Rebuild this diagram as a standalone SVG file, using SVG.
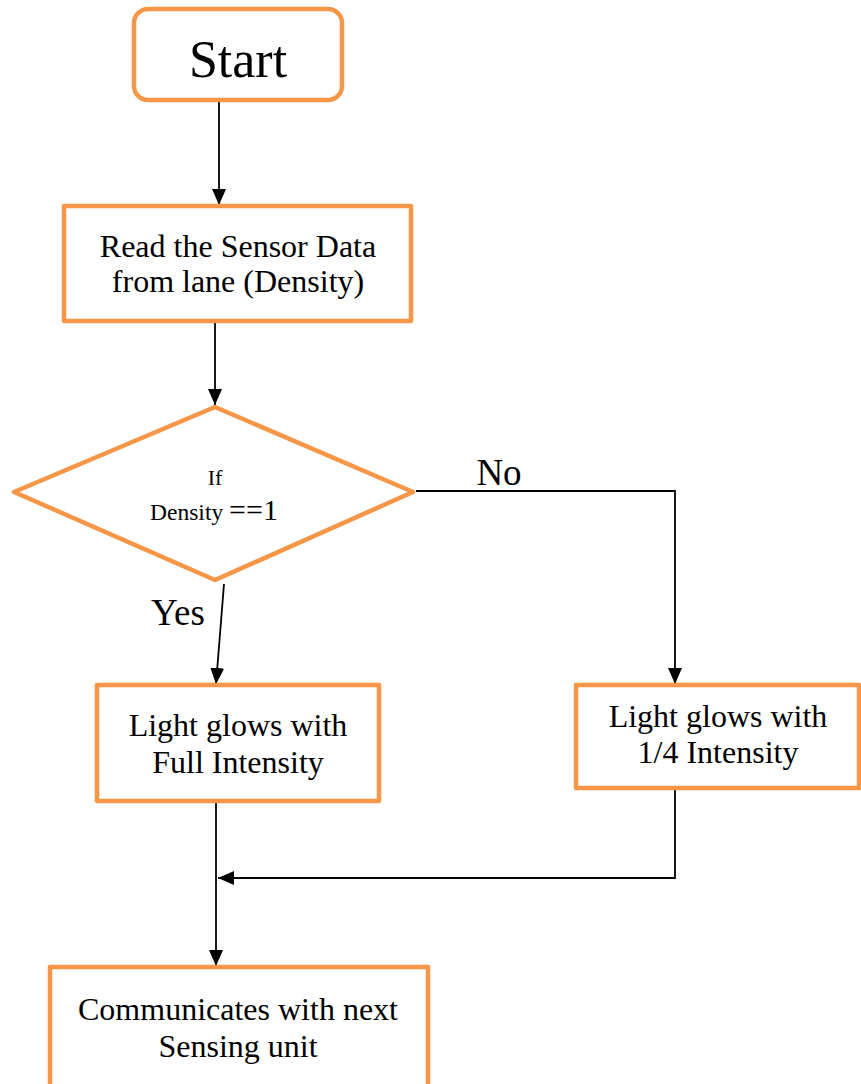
<svg xmlns="http://www.w3.org/2000/svg" width="861" height="1084" viewBox="0 0 861 1084">
<style>
.box{fill:#fff;stroke:#F79646;stroke-width:4.5;stroke-linejoin:round}
.t{font-family:"Liberation Serif","Times New Roman",serif;fill:#000;text-anchor:middle}
.c{fill:none;stroke:#000;stroke-width:1.8}
</style>
<defs>
<marker id="ah" viewBox="0 0 16 14" refX="16" refY="7" markerWidth="16" markerHeight="14" markerUnits="userSpaceOnUse" orient="auto"><path d="M0,0 L16,7 L0,14 z" fill="#000"/></marker>
</defs>
<g id="connectors">
<line class="c" x1="219" y1="101" x2="219" y2="205" marker-end="url(#ah)"/>
<line class="c" x1="215" y1="322" x2="215" y2="405" marker-end="url(#ah)"/>
<line class="c" x1="224" y1="584" x2="216" y2="684" marker-end="url(#ah)"/>
<polyline class="c" points="416,491 675,491 675,684" marker-end="url(#ah)"/>
<polyline class="c" points="675,789 675,878 218,878" marker-end="url(#ah)"/>
<line class="c" x1="216" y1="803" x2="216" y2="966" marker-end="url(#ah)"/>
<text class="t" x="499" y="485" font-size="37">No</text>
<text class="t" x="178" y="625" font-size="37">Yes</text>
</g>
<g id="start">
<rect class="box" x="134" y="9" width="208" height="91" rx="14"/>
<text class="t" x="238" y="77" font-size="52">Start</text>
</g>
<g id="read">
<rect class="box" x="64" y="206" width="347" height="115"/>
<text class="t" x="238" y="257" font-size="32">Read the Sensor Data</text>
<text class="t" x="238" y="292" font-size="32">from lane (Density)</text>
</g>
<g id="decision">
<polygon class="box" points="14,492 215,407 413,492 215,580"/>
<text class="t" x="215" y="485" font-size="22">If</text>
<text class="t" x="214" y="520"><tspan font-size="23.5">Density </tspan><tspan font-size="30">==1</tspan></text>
</g>
<g id="full">
<rect class="box" x="97" y="685" width="282" height="116"/>
<text class="t" x="238" y="736" font-size="32">Light glows with</text>
<text class="t" x="238" y="773" font-size="32">Full Intensity</text>
</g>
<g id="quarter">
<rect class="box" x="576" y="685" width="283" height="103"/>
<text class="t" x="718" y="727" font-size="32">Light glows with</text>
<text class="t" x="718" y="763" font-size="32">1/4 Intensity</text>
</g>
<g id="communicate">
<rect class="box" x="50" y="967" width="378" height="130"/>
<text class="t" x="238" y="1020" font-size="32">Communicates with next</text>
<text class="t" x="238" y="1057" font-size="32">Sensing unit</text>
</g>
</svg>
